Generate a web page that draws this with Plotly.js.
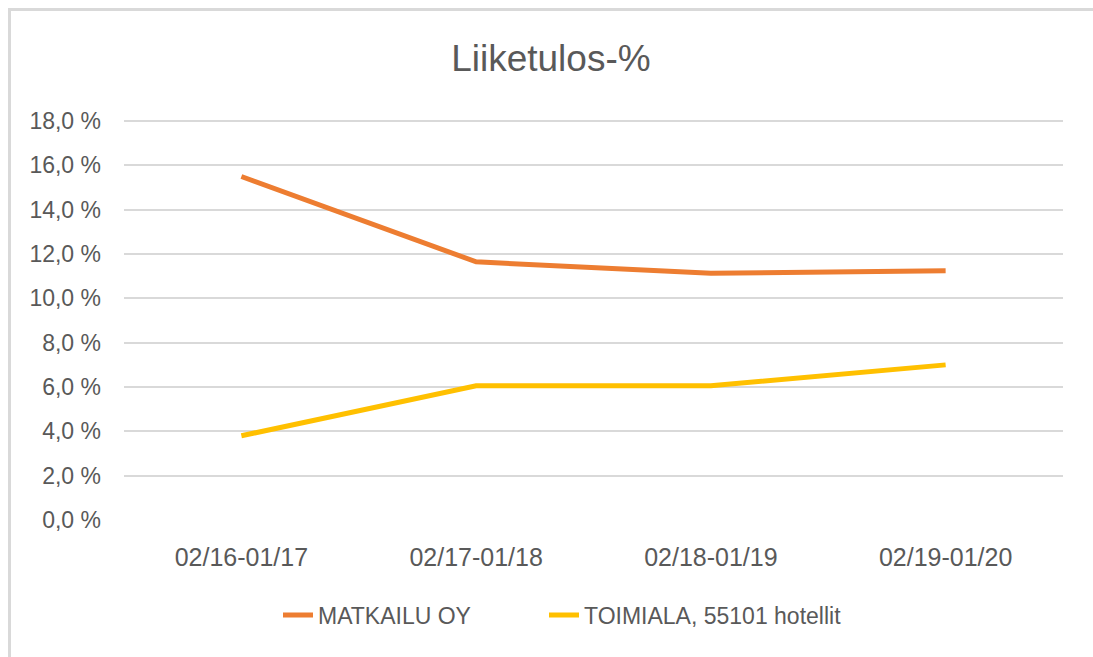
<!DOCTYPE html>
<html>
<head>
<meta charset="utf-8">
<script src="https://cdn.plot.ly/plotly-3.0.1.min.js"></script>
<style>
  html, body { margin: 0; padding: 0; background: #fff; }
  #wrap { position: relative; width: 1093px; height: 657px; overflow: hidden; }
  #chart { position: absolute; left: 0; top: 0; width: 1093px; height: 657px; }
  #frame { position: absolute; left: 8px; top: 8px; width: 1200px; height: 800px;
           border-left: 3px solid #d9d9d9; border-top: 3px solid #d9d9d9; pointer-events: none; }
</style>
</head>
<body>
<div id="wrap">
  <div id="chart"></div>
  <div id="frame"></div>
</div>
<script>
const categories = ["02/16-01/17", "02/17-01/18", "02/18-01/19", "02/19-01/20"];
const seriesNames = ["MATKAILU OY", "TOIMIALA, 55101 hotellit"];
const matkailu = [15.5, 11.65, 11.13, 11.25];
const toimiala = [3.8, 6.06, 6.06, 7.0];
const yTickVals = [0, 2, 4, 6, 8, 10, 12, 14, 16, 18];
const yTickText = ["0,0 %", "2,0 %", "4,0 %", "6,0 %", "8,0 %", "10,0 %", "12,0 %", "14,0 %", "16,0 %", "18,0 %"];
const chartTitle = "Liiketulos-%";

const FONT = "Liberation Sans, Arial, sans-serif";
const GREY = "#595959";

const traces = [
  { x: categories, y: matkailu, name: seriesNames[0], type: "scatter", mode: "lines",
    line: { color: "#ED7D31", width: 5 }, legend: "legend" },
  { x: categories, y: toimiala, name: seriesNames[1], type: "scatter", mode: "lines",
    line: { color: "#FFC000", width: 5 }, legend: "legend2" }
];

const legendBase = {
  orientation: "h", xref: "container", yref: "container",
  xanchor: "left", y: 1 - 615/657, yanchor: "middle",
  font: { family: FONT, size: 23, color: GREY }, bgcolor: "rgba(0,0,0,0)"
};

const layout = {
  width: 1093, height: 657,
  paper_bgcolor: "#ffffff", plot_bgcolor: "#ffffff",
  margin: { l: 124, r: 30, t: 120, b: 137, pad: 0 },
  font: { family: FONT, color: GREY },
  title: { text: chartTitle, font: { family: FONT, size: 37, color: GREY },
           x: 0.504, xanchor: "center", xref: "container",
           y: 1 - 58/657, yanchor: "middle", yref: "container" },
  showlegend: true,
  legend: Object.assign({}, legendBase, { x: 278/1093 }),
  legend2: Object.assign({}, legendBase, { x: 544/1093 }),
  xaxis: { type: "category", range: [-0.5, 3.5], showgrid: false, zeroline: false, showline: false,
           ticks: "", tickfont: { family: FONT, size: 25, color: GREY },
           ticklabelstandoff: 20, fixedrange: true },
  yaxis: { range: [0, 18.05], tickvals: yTickVals, ticktext: yTickText,
           showgrid: true, gridcolor: "#d9d9d9", gridwidth: 2,
           zeroline: false, showline: false, ticks: "",
           tickfont: { family: FONT, size: 23, color: GREY },
           ticklabelstandoff: 22, fixedrange: true }
};

Plotly.newPlot("chart", traces, layout, { displayModeBar: false, staticPlot: true });
</script>
</body>
</html>
